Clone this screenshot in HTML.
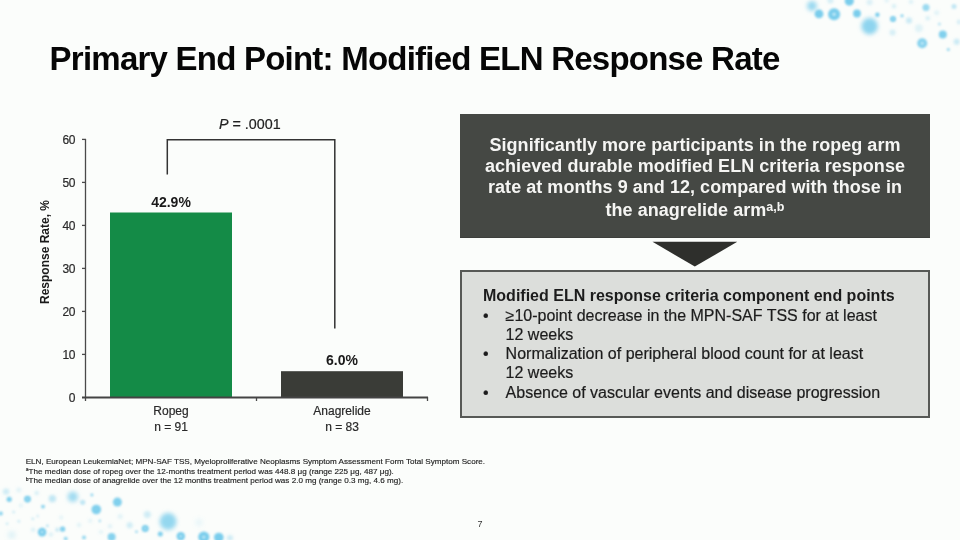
<!DOCTYPE html>
<html><head><meta charset="utf-8">
<style>
*{margin:0;padding:0;box-sizing:border-box}
html,body{width:960px;height:540px;overflow:hidden;background:#fbfdfb}
body{position:relative;font-family:"Liberation Sans",sans-serif;color:#222}
.a{position:absolute;white-space:nowrap}
#title{left:49.6px;top:38.6px;font-size:33px;line-height:40px;font-weight:bold;color:#060606;letter-spacing:-0.77px}
.tick{font-size:12px;line-height:14px;color:#2a2a2a;-webkit-text-stroke:0.2px #2a2a2a;width:40px;text-align:right;left:35.2px;letter-spacing:-0.3px}
.xl{font-size:12px;line-height:14.6px;color:#2a2a2a;-webkit-text-stroke:0.2px #2a2a2a;text-align:center;width:140px}
.val{font-size:14px;font-weight:bold;line-height:16px;color:#1a1a1a;text-align:center;width:100px}
#dark{left:460px;top:114.3px;width:470px;height:124.2px;background:#454844;border-bottom:1px solid #3d3f3c}
.dl{left:460px;width:470px;text-align:center;font-size:18px;font-weight:bold;color:#f5f5f3;line-height:22px;letter-spacing:0.04px}
#light{left:460px;top:270px;width:470px;height:148px;background:#dcdedb;border:2px solid #575956}
.ll{font-size:16px;line-height:19.3px;color:#1c1c1c;-webkit-text-stroke:0.2px #1c1c1c}
.fn{left:25.7px;font-size:8.1px;line-height:10px;color:#222;-webkit-text-stroke:0.15px #222}
</style></head><body>

<svg class="a" style="left:0;top:0" width="960" height="540" viewBox="0 0 960 540">
  <defs>
    <filter id="f1" x="-100%" y="-100%" width="300%" height="300%"><feGaussianBlur stdDeviation="0.85"/></filter>
    <filter id="f1_5" x="-100%" y="-100%" width="300%" height="300%"><feGaussianBlur stdDeviation="1.1"/></filter>
    <filter id="f2" x="-100%" y="-100%" width="300%" height="300%"><feGaussianBlur stdDeviation="1.4"/></filter>
    <filter id="f3" x="-100%" y="-100%" width="300%" height="300%"><feGaussianBlur stdDeviation="2.2"/></filter>
  </defs>
  <g fill="#7acdec" filter="url(#f1)">
    <circle cx="819" cy="13.9" r="4.4" opacity="1"/>
    <circle cx="834.1" cy="14.2" r="6" opacity="1"/>
    <circle cx="849.3" cy="1.1" r="4.6" opacity="1"/>
    <circle cx="857" cy="13.5" r="3.9" opacity="1"/>
    <circle cx="877.4" cy="14.8" r="2.2" opacity="1"/>
    <circle cx="893" cy="18.9" r="3" opacity="1"/>
    <circle cx="902" cy="15.8" r="1.5" opacity="0.9"/>
    <circle cx="942.8" cy="34.4" r="4" opacity="0.95"/>
    <circle cx="922.2" cy="43.3" r="5" opacity="0.9"/>
    <circle cx="948.3" cy="49.4" r="1.5" opacity="0.8"/>
    <circle cx="9.2" cy="499.3" r="2.6" opacity="0.95"/>
    <circle cx="27.5" cy="499.1" r="3.4" opacity="1"/>
    <circle cx="43" cy="506.6" r="1.9" opacity="0.9"/>
    <circle cx="0.8" cy="513.5" r="2" opacity="0.9"/>
    <circle cx="47.4" cy="525.7" r="1.2" opacity="0.6"/>
    <circle cx="42.1" cy="532.1" r="4.3" opacity="1"/>
    <circle cx="91.9" cy="495" r="1.4" opacity="0.85"/>
    <circle cx="117.4" cy="502.1" r="4.5" opacity="0.95"/>
    <circle cx="96.3" cy="509.5" r="4.8" opacity="0.95"/>
    <circle cx="99.8" cy="520.9" r="1.3" opacity="0.6"/>
    <circle cx="62.6" cy="529" r="2.6" opacity="1"/>
    <circle cx="84" cy="537.5" r="2" opacity="0.8"/>
    <circle cx="65.7" cy="538.8" r="2" opacity="0.8"/>
    <circle cx="111.6" cy="537" r="4" opacity="0.9"/>
    <circle cx="145.2" cy="528.4" r="3.5" opacity="1"/>
    <circle cx="160.3" cy="534" r="2.5" opacity="0.95"/>
    <circle cx="136.5" cy="531.7" r="1.3" opacity="0.8"/>
    <circle cx="180.8" cy="536.3" r="4.2" opacity="1"/>
    <circle cx="203.8" cy="537.1" r="5.6" opacity="1"/>
    <circle cx="218.8" cy="537.5" r="4.8" opacity="1"/>
  </g>
  <g fill="#7acdec" filter="url(#f1_5)">
    <circle cx="926" cy="7.6" r="3.5" opacity="0.75"/>
    <circle cx="954" cy="6.4" r="2.5" opacity="0.45"/>
    <circle cx="939.4" cy="23.9" r="1.5" opacity="0.5"/>
    <circle cx="13.7" cy="512" r="1.5" opacity="0.3"/>
    <circle cx="18.8" cy="521.2" r="1.5" opacity="0.3"/>
    <circle cx="7.1" cy="523.7" r="1.5" opacity="0.3"/>
    <circle cx="32.8" cy="518.8" r="1.5" opacity="0.3"/>
    <circle cx="37.7" cy="516" r="1.5" opacity="0.25"/>
    <circle cx="82.7" cy="502.3" r="2.6" opacity="0.45"/>
    <circle cx="57" cy="529.8" r="1.5" opacity="0.25"/>
  </g>
  <g fill="#7acdec" filter="url(#f2)">
    <circle cx="894" cy="6.3" r="2" opacity="0.35"/>
    <circle cx="892.6" cy="32.6" r="3" opacity="0.3"/>
    <circle cx="869.6" cy="2.2" r="3" opacity="0.25"/>
    <circle cx="886.7" cy="0.4" r="2" opacity="0.25"/>
    <circle cx="830.4" cy="0.5" r="3" opacity="0.3"/>
    <circle cx="909" cy="20.6" r="3" opacity="0.4"/>
    <circle cx="956.7" cy="41.7" r="3" opacity="0.4"/>
    <circle cx="927.8" cy="18.3" r="2" opacity="0.35"/>
    <circle cx="911" cy="1.7" r="2" opacity="0.3"/>
    <circle cx="918.9" cy="28.3" r="4" opacity="0.2"/>
    <circle cx="936.7" cy="12.8" r="2.5" opacity="0.2"/>
    <circle cx="959" cy="22" r="2" opacity="0.4"/>
    <circle cx="6.1" cy="491.6" r="3.2" opacity="0.35"/>
    <circle cx="36.7" cy="492.9" r="2" opacity="0.35"/>
    <circle cx="52.4" cy="498.7" r="3.6" opacity="0.45"/>
    <circle cx="20.9" cy="505.4" r="2" opacity="0.2"/>
    <circle cx="33.1" cy="529.8" r="2" opacity="0.3"/>
    <circle cx="50.9" cy="534.4" r="2" opacity="0.3"/>
    <circle cx="57.5" cy="529.8" r="2" opacity="0.3"/>
    <circle cx="18.8" cy="490.1" r="2.5" opacity="0.2"/>
    <circle cx="61.1" cy="517.6" r="2" opacity="0.2"/>
    <circle cx="79" cy="525" r="2" opacity="0.25"/>
    <circle cx="90.2" cy="520.7" r="2" opacity="0.2"/>
    <circle cx="110" cy="526.3" r="2" opacity="0.25"/>
    <circle cx="100.9" cy="531.9" r="2" opacity="0.2"/>
    <circle cx="120.2" cy="516.6" r="2.5" opacity="0.2"/>
    <circle cx="147.3" cy="514.5" r="3.5" opacity="0.35"/>
    <circle cx="129.7" cy="525.2" r="3" opacity="0.35"/>
    <circle cx="230" cy="538" r="3" opacity="0.35"/>
  </g>
  <g fill="#7acdec" filter="url(#f3)">
    <circle cx="812" cy="6" r="5" opacity="0.75"/>
    <circle cx="869.6" cy="26.3" r="8.2" opacity="0.85"/>
    <circle cx="11.7" cy="534.9" r="4" opacity="0.2"/>
    <circle cx="72.8" cy="496.7" r="5.2" opacity="0.7"/>
    <circle cx="168.1" cy="521.5" r="8.4" opacity="0.8"/>
    <circle cx="199" cy="522.5" r="4" opacity="0.12"/>
  </g>
  <g fill="#d8f1fa" filter="url(#f1)" opacity="0.75">
    <circle cx="834.1" cy="14.2" r="1.80"/>
    <circle cx="893" cy="18.9" r="0.90"/>
    <circle cx="922.2" cy="43.3" r="1.50"/>
    <circle cx="27.5" cy="499.1" r="1.02"/>
    <circle cx="42.1" cy="532.1" r="1.29"/>
    <circle cx="62.6" cy="529" r="0.78"/>
    <circle cx="145.2" cy="528.4" r="1.05"/>
    <circle cx="180.8" cy="536.3" r="1.26"/>
    <circle cx="203.8" cy="537.1" r="1.68"/>
  </g>
</svg>

<div id="title" class="a">Primary End Point: Modified ELN Response Rate</div>

<!-- chart -->
<svg class="a" style="left:0;top:0" width="460" height="440" viewBox="0 0 460 440">
  <rect x="110" y="212.5" width="122" height="185" fill="#148b47"/>
  <rect x="281" y="371.2" width="122" height="26.3" fill="#3a3c37"/>
  <g stroke="#4a4a4a" stroke-width="1.3" fill="none">
    <line x1="85.5" y1="139" x2="85.5" y2="401"/>
    <line x1="82" y1="139.4" x2="86" y2="139.4"/>
    <line x1="82" y1="182.4" x2="86" y2="182.4"/>
    <line x1="82" y1="225.4" x2="86" y2="225.4"/>
    <line x1="82" y1="268.4" x2="86" y2="268.4"/>
    <line x1="82" y1="311.4" x2="86" y2="311.4"/>
    <line x1="82" y1="354.4" x2="86" y2="354.4"/>
    <line x1="256.5" y1="397" x2="256.5" y2="401"/>
    <line x1="427.5" y1="397" x2="427.5" y2="401"/>
  </g>
  <line x1="82" y1="397.5" x2="428" y2="397.5" stroke="#444" stroke-width="1.8"/>
  <path d="M167.3 174.6 V139.8 H334.8 V328.4" stroke="#333" stroke-width="1.5" fill="none"/>
</svg>

<div class="a tick" style="top:133.2px">60</div>
<div class="a tick" style="top:176.2px">50</div>
<div class="a tick" style="top:219.2px">40</div>
<div class="a tick" style="top:262.2px">30</div>
<div class="a tick" style="top:305.2px">20</div>
<div class="a tick" style="top:348.2px">10</div>
<div class="a tick" style="top:391.2px">0</div>

<div class="a" style="left:38px;top:303.6px;width:104px;height:14px;transform-origin:0 0;transform:rotate(-90deg);font-size:12px;font-weight:bold;line-height:14px;color:#1a1a1a">Response Rate, %</div>

<div class="a" style="left:219px;top:115.2px;font-size:14.3px;line-height:18px;color:#222;-webkit-text-stroke:0.2px #222"><i>P</i> = .0001</div>
<div class="a val" style="left:121px;top:193.6px">42.9%</div>
<div class="a val" style="left:292px;top:352px">6.0%</div>

<div class="a xl" style="left:101px;top:404.2px">Ropeg</div>
<div class="a xl" style="left:101px;top:419.6px">n = 91</div>
<div class="a xl" style="left:272px;top:404.2px">Anagrelide</div>
<div class="a xl" style="left:272px;top:419.6px">n = 83</div>

<!-- right boxes -->
<div id="dark" class="a"></div>
<div class="a dl" style="top:134px">Significantly more participants in the ropeg arm</div>
<div class="a dl" style="top:155.4px">achieved durable modified ELN criteria response</div>
<div class="a dl" style="top:176.2px">rate at months 9 and 12, compared with those in</div>
<div class="a dl" style="top:199px">the anagrelide arm<span style="font-size:12.5px;position:relative;top:-5.2px">a,b</span></div>

<svg class="a" style="left:650px;top:240px" width="90" height="30" viewBox="650 240 90 30">
  <path d="M652.5 241.8 L737.3 241.8 L694.8 266.6 Z" fill="#2e2f2c"/>
</svg>

<div id="light" class="a"></div>
<div class="a ll" style="left:483px;top:286.1px;font-weight:bold;-webkit-text-stroke:0">Modified ELN response criteria component end points</div>
<div class="a ll" style="left:483px;top:305.6px">•</div>
<div class="a ll" style="left:505.6px;top:305.6px">≥10-point decrease in the MPN-SAF TSS for at least</div>
<div class="a ll" style="left:505.6px;top:324.8px">12 weeks</div>
<div class="a ll" style="left:483px;top:344.0px">•</div>
<div class="a ll" style="left:505.6px;top:344.0px">Normalization of peripheral blood count for at least</div>
<div class="a ll" style="left:505.6px;top:363.4px">12 weeks</div>
<div class="a ll" style="left:483px;top:382.6px">•</div>
<div class="a ll" style="left:505.6px;top:382.6px">Absence of vascular events and disease progression</div>

<div class="a fn" style="top:456.8px">ELN, European LeukemiaNet; MPN-SAF TSS, Myeloproliferative Neoplasms Symptom Assessment Form Total Symptom Score.</div>
<div class="a fn" style="top:466.5px"><span style="font-size:5px;position:relative;top:-2.5px">a</span>The median dose of ropeg over the 12-months treatment period was 448.8 μg (range 225 μg, 487 μg).</div>
<div class="a fn" style="top:476.2px"><span style="font-size:5px;position:relative;top:-2.5px">b</span>The median dose of anagrelide over the 12 months treatment period was 2.0 mg (range 0.3 mg, 4.6 mg).</div>

<div class="a" style="left:477.6px;top:519px;font-size:9px;line-height:10px;color:#333">7</div>

</body></html>
